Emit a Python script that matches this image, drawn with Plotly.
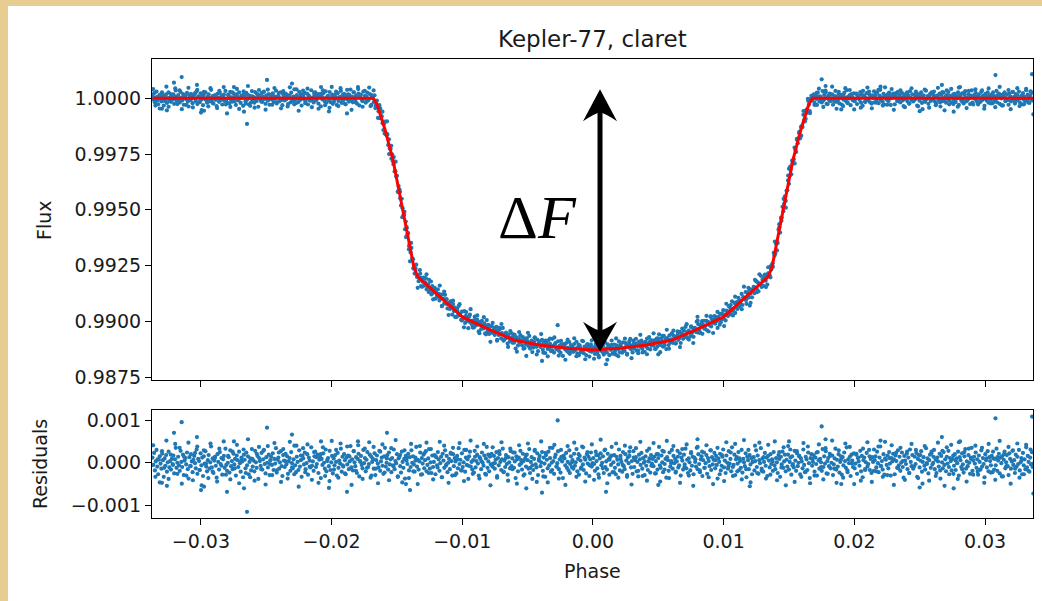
import numpy as np
import plotly.graph_objects as go

# ---------------- data ----------------
title_text = "Kepler-77, claret"

# transit model (red line)
model_phase = [-0.0337, -0.0168, -0.0165, -0.0159, -0.0153, -0.0145, -0.0140, -0.0137, -0.0134,
               -0.0117, -0.0100, -0.0080, -0.0060, -0.0040, -0.0020, 0.0000,
               0.0020, 0.0040, 0.0060, 0.0080, 0.0100, 0.0117,
               0.0134, 0.0137, 0.0140, 0.0145, 0.0153, 0.0159, 0.0165, 0.0168, 0.0337]
model_flux = [1.00000, 1.00000, 0.99970, 0.99858, 0.99723, 0.99486, 0.99333, 0.99243, 0.99199,
              0.99110, 0.99020, 0.98965, 0.98915, 0.98893, 0.98879, 0.98872,
              0.98879, 0.98893, 0.98915, 0.98965, 0.99020, 0.99110,
              0.99199, 0.99243, 0.99333, 0.99486, 0.99723, 0.99858, 0.99970, 1.00000, 1.00000]

# residuals of the observations (units of 1e-5), left to right in phase
resid_main = [
    12, -5, 23, -18, 3, 30, -9, -27, 7, 15, -2, -14, 21, 6, -33, 10, -7, 18, -21, 1, 26, -11, 4, -16, 9,
    -3, 17, -25, 8, 35, -12, 0, 14, -6, -19, 28, 2, -10, 19, -29, 5, 11, -4, 24, -15, -37, 13, -8, 20, 3,
    -22, 7, 16, -1, -13, 31, -26, 9, 4, -17, 22, -6, 12, -31, 15, -2, 27, -9, -20, 6, 18, -14, 1, 38, -11,
    10, -24, 5, 14, -7, -35, 20, 2, -16, 25, -3, 11, -28, 8, 16, -12, 33, -5, -19, 0, 13, -23, 29, -8, 4,
    -15, 21, -4, 9, -30, 17, 6, -10, 26, -1, -21, 12, 3, -34, 19, 7, -13, 24, -6, 15, -27, 2, 10, -18, 32,
    -9, 5, -20, 28, 1, -12, 16, -38, 11, 4, -7, 23, -16, 8, 30, -3, -25, 13, 0, -11, 19, -29, 6, 14, -5,
    22, -17, 9, -2, 34, -23, 7, 12, -14, 1, 27, -8, -31, 18, 5, -10, 21, -4, 15, -26, 3, 11, -19, 25, -1,
    -13, 8, 40, -6, -22, 14, 2, -17, 29, -9, 6, -33, 17, 10, -4, 24, -15, -1, 20, -28, 12, 5, -11, 36, -7,
    3, -19, 15, 26, -10, -3, 19, -24, 7, 13, -36, 9, -5, 22, 0, -14, 31, -20, 4, 11, -8, 28, -17, 1, 16,
    -25, 10, -6, 18, 2, -30, 23, -12, 5, -2, 33, -21, 14, -9, 20, 6, -27, 12, -4, 17, -15, 3, 39, -11, 8,
    -18, 27, 1, -8, 13, -24, 9, 21, -32, 4, 16, -5, -13, 30, -1, 11, -20, 7, 25, -10, -3, 19, -35, 14, 2,
    9, -14, 22, -29, 6, 17, -2, -11, 28, -19, 3, 12, -7, -26, 15, 35, -9, 0, 18, -16, 24, -4, 8, -22, 11,
    -6, 31, -15, 4, -1, 20, -33, 10, 14, -8, -23, 26, 2, -12, 9, -37, 16, 5, -3, 21, -18, 13, -10, 29, 0,
    15, -4, -21, 12, 37, -9, 7, -16, 3, 24, -28, 11, -2, 19, -13, 6, 27, -20, -5, 10, 32, -14, 1, -24, 17,
    -10, 2, 18, -27, 13, -6, 25, 8, -19, -1, 14, -34, 21, 5, -12, 29, -7, 16, -22, 0, 9, -15, 23, 4, -30,
    20, -8, 11, 3, -25, 16, -13, 34, -3, 7, -18, 22, -10, 1, 30, -21, 12, -5, 8, -38, 15, 26, -9, 2, -16,
    6, -23, 28, -11, 4, 19, -2, -30, 13, 9, -15, 24, 0, -7, 17, -26, 10, 37, -12, 3, -20, 14, -4, 21, -9,
    -2, 16, -14, 7, 25, -31, 11, -6, 20, 2, -17, 8, 33, -22, 5, -10, 18, -3, -28, 13, 1, -13, 27, -8, 10,
    24, -12, 3, -36, 15, 8, -20, 12, -5, 28, -1, -16, 21, 4, -27, 10, -9, 19, 6, -14, 32, -24, 2, 13, -6,
    -17, 9, 30, -4, -11, 22, -29, 5, 16, -8, 1, 25, -19, 12, -2, -33, 18, 7, -13, 26, -6, 11, -21, 0, 35,
    4, -26, 13, 19, -9, -1, 27, -15, 8, -23, 14, 3, -36, 17, 10, -6, 23, -12, 2, -18, 29, -3, 15, -10, 6,
    -14, 21, -7, 1, 32, -20, 9, -28, 16, 5, -11, 38, -4, -17, 12, 7, -25, 20, -2, 14, -31, 8, 24, -9, -1,
    11, -3, -19, 26, 4, -13, 18, -35, 10, 22, -6, 0, 15, -24, 29, -10, 3, -16, 21, 8, -28, 13, -5, 17, -22,
    1, 18, -12, -27, 14, 7, -4, 31, -18, 9, 2, -21, 25, -8, -15, 20, 5, -33, 12, -1, 16, 36, -11, 4, -26,
    27, -10, 6, 13, -20, 2, -32, 19, 8, -5, 23, -14, 11, 0, -29, 15, -7, 28, -17, 3, 10, -23, 18, -2, 9,
    -8, 14, -25, 4, 20, -16, 11, 37, -6, -12, 17, 1, -22, 26, -3, 9, -35, 13, 6, -19, 24, -9, -1, 30, -14,
    16, -1, 9, -21, 3, 28, -11, -6, 22, -30, 12, 5, -16, 19, -4, 33, -13, 7, -24, 10, 1, -18, 25, -7, 14,
    -27, 12, 2, -9, 35, -15, 20, -3, -22, 8, 15, -31, 6, 24, -12, -1, 18, -26, 11, 4, -8, 29, -17, 13, -4,
    7, 23, -13, 16, -5, -37, 10, 2, 21, -18, -7, 14, 31, -11, 5, -24, 17, 0, -14, 27, -2, 9, -20, 36, -10,
    -5, 19, -29, 8, 13, -2, 25, -17, 4, -12, 30, -23, 9, 1, -8, 22, -34, 14, 6, -15, 18, -4, 11, -27, 3,
    13, -18, 4, 29, -10, 17, -26, 6, -1, 34, -14, 10, -21, 2, 23, -7, 12, -31, 16, 5, -11, 20, -3, 8, -19,
    25, -6, -15, 11, 1, -24, 18, 9, -33, 14, -4, 26, -12, 3, 19, -20, 7, -9, 39, -16, 2, 12, -28, 15, -3,
    -11, 28, 5, -19, 22, -8, 0, 16, -27, 10, 3, -13, 31, -5, -22, 14, 8, -17, 24, -1, -36, 11, 20, -7, 2,
    18, -21, 12, -3, -30, 25, 6, -14, 9, 1, -19, 32, -10, 15, -2, 27, -25, 4, 11, -8, 21, -13, 0, 17, -29,
    -4, 10, 33, -16, 7, -9, 20, -23, 2, 15, -28, 13, -6, 24, 4, -12, 36, -18, 8, -1, 14, -31, 19, 5, -10,
    22, -13, -2, 19, -26, 11, 3, -7, 28, -20, 16, -34, 6, 12, -15, 1, 23, -9, -3, 30, -17, 9, -24, 13, 2,
    -19, 6, 15, -11, 26, -1, -22, 12, 38, -8, 4, -16, 20, -28, 10, 7, -5, 17, -13, 25, -2, -30, 11, 3, 21,
    8, -27, 17, 4, -12, 29, -6, 14, -19, 0, 24, -10, -35, 16, 5, -3, 21, -15, 12, -24, 31, 2, -8, 18, -14,
    -9, 14, -3, 23, -33, 9, 18, -11, 5, 27, -21, 2, 13, -7, -16, 34, -1, 10, -25, 6, 19, -12, 26, -4, 0,
    30, -15, 7, -24, 12, 3, -9, 21, -37, 16, 1, -13, 25, -5, 8, -20, 14, -2, 28, -27, 11, 4, -18, 9, 17,
    -7, 20, -17, 10, -1, 26, -30, 13, 6, -10, 22, -4, -23, 15, 32, -14, 3, -8, 18, 0, -26, 12, 35, -19, 5,
    14, -2, 24, -12, 8, -28, 17, 2, -16, 29, -9, 11, -3, -34, 20, 6, -11, 27, -20, 13, 4, -6, 16, -22, 10,
    -16, 9, -6, 33, -19, 5, 21, -25, 12, -1, 15, -32, 7, 26, -13, 1, 18, -8, -29, 22, 9, -14, 3, 28, -5,
    6, -24, 19, -9, 14, -3, 30, -18, 1, 11, -27, 23, -6, 8, -15, 36, -11, 16, 2, -21, 12, -4, 25, -10, -2,
]
phase_start, phase_stop = -0.0337, 0.0337

# a second, noisier group of observations (units of 1e-5), left to right in phase
resid_wide = [
    41, -33, 8, -46, 27, -12, 52, -38, 19, -5, 44, -26, 35, -49, 14, -30, 47, -8, -41, 23, 38, -17, -53, 29, -2,
    -36, 45, -21, 11, -44, 33, -7, 50, -28, 16, -39, 26, -13, 42, -48, 6, 31, -24, 55, -34, 9, -42, 21, 37, -15,
    28, -51, 39, -3, -29, 46, -18, 24, -45, 32, 4, -37, 49, -11, -27, 40, -56, 17, 34, -22, 43, -9, -40, 25, 13,
    -47, 20, 36, -31, 7, -43, 51, -16, 30, -35, 45, -6, -25, 38, 15, -52, 27, -19, 41, 2, -38, 33, -12, 48, -30,
    37, -14, -48, 26, 43, -23, 10, -41, 34, -8, 53, -32, 18, -46, 29, 12, -36, 44, -20, 5, -50, 39, -27, 22, 47,
    -24, 32, -39, 15, -11, 49, -34, 40, -4, -47, 21, 35, -29, 8, 46, -18, -43, 30, -7, 52, -26, 14, 38, -37, 3,
    44, -28, 19, -53, 36, -1, -35, 27, 48, -21, 11, -42, 33, -15, 24, -49, 41, 6, -30, 17, 45, -12, -38, 28, -45,
    9, 50, -32, 23, -46, 35, -17, 42, -9, -37, 30, 13, -52, 39, -24, 1, 47, -33, 20, -14, 36, -44, 25, -6, 43,
    -40, 18, -27, 54, -13, 31, -48, 7, 37, -22, 45, -35, 16, -5, 40, -29, 26, -51, 12, 34, -19, 49, -31, 3, -42,
    33, -7, 46, -25, 20, -44, 28, -16, 51, -36, 4, 39, -23, 14, -47, 32, -10, 43, -30, 22, -54, 8, 37, -18, 26,
    -12, 41, -34, 29, -50, 6, 35, -27, 18, -43, 48, -8, 24, -31, 44, -20, 10, -39, 53, -15, 30, -46, 2, 40, -24,
    47, -19, 13, -37, 42, -28, 3, 50, -41, 25, -11, 36, -53, 19, 31, -6, -45, 27, 15, -33, 46, -21, 38, -48, 9,
    -30, 24, 43, -10, -39, 34, -26, 16, 52, -14, -47, 29, 7, -35, 45, -22, 37, -2, -50, 21, 12, -42, 33, -17, 48,
    15, -45, 31, -20, 38, -7, -33, 49, -29, 11, 41, -52, 23, -13, 35, 4, -40, 26, -24, 44, -9, 30, -36, 18, -49,
    39, -3, -42, 22, 14, -31, 47, -18, 28, -54, 36, -10, 42, -26, 5, -38, 50, -15, 25, -44, 33, 9, -28, 40, -21,
    -16, 35, -47, 10, 44, -23, 26, -40, 13, 51, -32, 20, -8, 37, -49, 29, -14, 45, -35, 6, -27, 42, -19, 31, -3,
]
wide_start, wide_stop = -0.03365, 0.03365

# individual outlying observations (phase, residual in 1e-5)
extra_phase = [-0.03298, -0.03260, -0.03206, -0.03147, -0.03030, -0.02999, -0.02976, -0.02800,
               -0.02747, -0.02670, -0.02647, -0.02494, -0.02303, -0.02081, -0.02020, -0.01882,
               -0.01798, -0.01576, -0.01431, -0.01400, -0.00510, -0.00390, -0.00270, 0.00100,
               0.00500, 0.00800, 0.01200, 0.01500, 0.01750, 0.01780, 0.01900, 0.02200,
               0.02500, 0.02670, 0.02760, 0.02800, 0.03080, 0.03360, 0.03370]
extra_resid = [-47, -54, 70, 95, 60, -64, -56, -68,
               50, -60, -115, 82, 66, 50, -59, -68,
               50, 70, -50, -64, -60, -70, 99, -68,
               -52, 55, -55, 50, 85, 55, -50, 52,
               -58, 60, -60, 48, 104, 108, -72]

x_ticks = [-0.03, -0.02, -0.01, 0.0, 0.01, 0.02, 0.03]
x_ticklabels = ["\u22120.03", "\u22120.02", "\u22120.01", "0.00", "0.01", "0.02", "0.03"]
flux_ticks = [0.9875, 0.9900, 0.9925, 0.9950, 0.9975, 1.0000]
flux_ticklabels = ["0.9875", "0.9900", "0.9925", "0.9950", "0.9975", "1.0000"]
res_ticks = [-0.001, 0.0, 0.001]
res_ticklabels = ["\u22120.001", "0.000", "0.001"]

arrow_phase = 0.00054
arrow_top = 1.00040
arrow_bottom = 0.98864
delta_label = "\u0394<i>F</i>"

# ---------------- derived ----------------
phase_main = np.linspace(phase_start, phase_stop, len(resid_main))
phase_wide = np.linspace(wide_start, wide_stop, len(resid_wide))
phase_all = np.concatenate([phase_main, phase_wide, np.array(extra_phase)])
resid_all = np.concatenate([np.array(resid_main), np.array(resid_wide), np.array(extra_resid)]) * 1e-5
order = np.argsort(phase_all, kind="stable")
phase_all, resid_all = phase_all[order], resid_all[order]
flux_all = np.interp(phase_all, model_phase, model_flux) + resid_all

# ---------------- figure ----------------
W, H = 1042, 601
ML, MR, MT, MB = 152, 9, 59, 83
PW, PH = W - ML - MR, H - MT - MB


def px_x(px):
    return (px - ML) / PW


def px_y(py):
    return (H - MB - py) / PH


blue = "#1f77b4"
msize = 4.2
tick_font = dict(family="DejaVu Sans", size=19, color="#1a1a1a")

fig = go.Figure()
fig.add_trace(go.Scatter(x=phase_all, y=flux_all, mode="markers",
                         marker=dict(size=msize, color=blue, line=dict(width=0)),
                         xaxis="x", yaxis="y", showlegend=False, hoverinfo="skip"))
fig.add_trace(go.Scatter(x=model_phase, y=model_flux, mode="lines",
                         line=dict(color="red", width=3),
                         xaxis="x", yaxis="y", showlegend=False, hoverinfo="skip"))
fig.add_trace(go.Scatter(x=phase_all, y=resid_all, mode="markers",
                         marker=dict(size=msize, color=blue, line=dict(width=0)),
                         xaxis="x2", yaxis="y2", showlegend=False, hoverinfo="skip"))

axis_common = dict(ticks="outside", ticklen=6, tickwidth=1.2, tickcolor="black",
                   showline=True, linecolor="black", linewidth=1.2, mirror=True,
                   showgrid=False, zeroline=False, tickfont=tick_font)

xrange = [-0.03374, 0.03367]
fig.update_layout(
    width=W, height=H,
    margin=dict(l=ML, r=MR, t=MT, b=MB),
    paper_bgcolor="#E8CD92",
    plot_bgcolor="white",
    xaxis=dict(range=xrange, tickvals=x_ticks, ticktext=x_ticklabels, showticklabels=False,
               anchor="y", domain=[0, 1], **axis_common),
    yaxis=dict(range=[0.98737, 1.00176], tickvals=flux_ticks, ticktext=flux_ticklabels,
               anchor="x", domain=[px_y(380), 1], **axis_common),
    xaxis2=dict(range=xrange, tickvals=x_ticks, ticktext=x_ticklabels, matches="x",
                anchor="y2", domain=[0, 1], **axis_common),
    yaxis2=dict(range=[-0.001294, 0.001235], tickvals=res_ticks, ticktext=res_ticklabels,
                anchor="x2", domain=[0, px_y(410)], **axis_common),
)

shapes = [
    # white page over the parchment
    dict(type="rect", xref="paper", yref="paper", x0=px_x(8), x1=px_x(W + 2), y0=px_y(H + 2), y1=px_y(6),
         fillcolor="white", line=dict(width=0), layer="below"),
    # arrow shaft
    dict(type="line", xref="x", yref="y", x0=arrow_phase, x1=arrow_phase,
         y0=arrow_bottom + 0.00045, y1=arrow_top - 0.00045,
         line=dict(color="black", width=5), layer="above"),
    # arrow heads
    dict(type="path", xref="x", yref="y", xsizemode="pixel", ysizemode="pixel",
         xanchor=arrow_phase, yanchor=arrow_top,
         path="M0,0 L17,-32 Q5,-24 0,-23 Q-5,-24 -17,-32 Z",
         fillcolor="black", line=dict(width=0), layer="above"),
    dict(type="path", xref="x", yref="y", xsizemode="pixel", ysizemode="pixel",
         xanchor=arrow_phase, yanchor=arrow_bottom,
         path="M0,0 L17,30 Q5,22 0,21 Q-5,22 -17,30 Z",
         fillcolor="black", line=dict(width=0), layer="above"),
]
fig.update_layout(shapes=shapes)

annotations = [
    dict(text=title_text, xref="paper", yref="paper", x=px_x(592), y=px_y(39),
         showarrow=False, xanchor="center", yanchor="middle",
         font=dict(family="DejaVu Sans", size=23, color="#1a1a1a")),
    dict(text="Flux", xref="paper", yref="paper", x=px_x(44), y=px_y(220), textangle=-90,
         showarrow=False, xanchor="center", yanchor="middle", font=tick_font),
    dict(text="Residuals", xref="paper", yref="paper", x=px_x(40), y=px_y(464), textangle=-90,
         showarrow=False, xanchor="center", yanchor="middle", font=tick_font),
    dict(text="Phase", xref="paper", yref="paper", x=px_x(592), y=px_y(571),
         showarrow=False, xanchor="center", yanchor="middle", font=tick_font),
    dict(text=delta_label, xref="x", yref="y", x=(538 - 593) / 13070, y=0.99468,
         showarrow=False, xanchor="center", yanchor="middle",
         font=dict(family="Liberation Serif", size=62, color="black")),
]
fig.update_layout(annotations=annotations)

fig.write_html("out.html")
